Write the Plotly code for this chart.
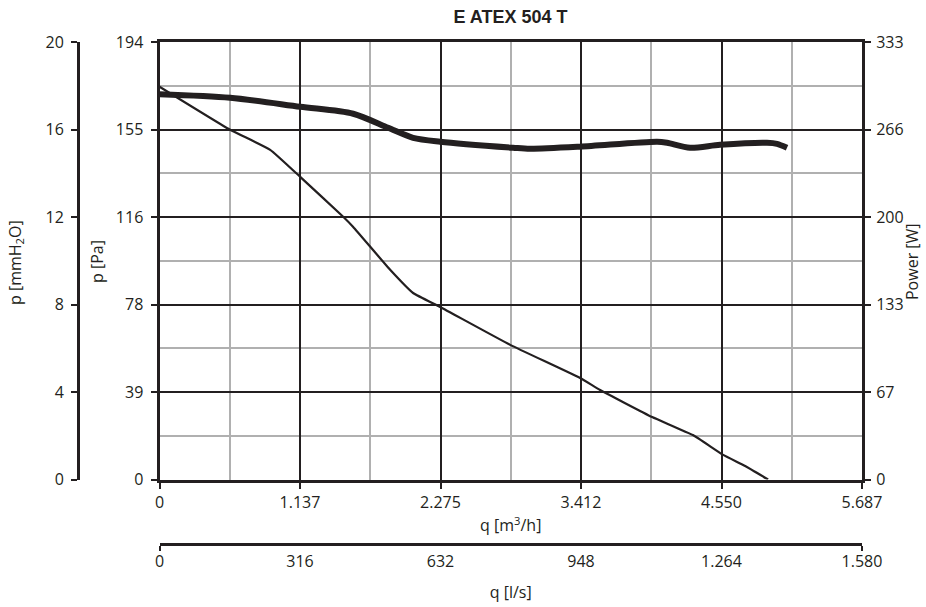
import plotly.graph_objects as go

# ---------------- data ----------------
TITLE = "E ATEX 504 T"

# pressure curve (thin line), q in m3/h, p in Pa
q_pressure = [0, 572, 896, 1139, 1487, 1568, 1867, 2053, 2272, 2839, 3405, 3567, 3988, 4318, 4563, 4741, 4927]
p_pressure = [174.2, 155.1, 146.2, 134.2, 116.5, 112.0, 93.0, 82.7, 76.5, 59.7, 45.0, 39.7, 27.7, 19.7, 10.9, 6.0, 0.0]

# power curve (thick line), q in m3/h, power in W
q_power = [0, 572, 1139, 1568, 1851, 2053, 2272, 2862, 2999, 3405, 4028, 4109, 4295, 4538, 4918, 4999, 5080]
w_power = [293.3, 290.6, 283.7, 278.4, 267.7, 260.1, 257.1, 252.5, 251.7, 253.3, 257.1, 256.3, 252.5, 254.8, 256.3, 255.5, 252.5]

# axes ranges and ticks
q_m3h_range = [0, 5687]
q_m3h_ticks = [0, 1137.4, 2274.8, 3412.2, 4549.6, 5687]
q_m3h_labels = ["0", "1.137", "2.275", "3.412", "4.550", "5.687"]
q_m3h_minor = [568.7, 1706.1, 2843.5, 3980.9, 5118.3]

q_ls_range = [0, 1580]
q_ls_ticks = [0, 316, 632, 948, 1264, 1580]
q_ls_labels = ["0", "316", "632", "948", "1.264", "1.580"]

p_pa_range = [0, 194]
p_pa_ticks = [0, 38.8, 77.6, 116.4, 155.2, 194]
p_pa_labels = ["0", "39", "78", "116", "155", "194"]
p_pa_minor = [19.4, 58.2, 97.0, 135.8, 174.6]

p_mm_range = [0, 20]
p_mm_ticks = [0, 4, 8, 12, 16, 20]
p_mm_labels = ["0", "4", "8", "12", "16", "20"]

w_range = [0, 333]
w_ticks = [0, 66.6, 133.2, 199.8, 266.4, 333]
w_labels = ["0", "67", "133", "200", "266", "333"]

TITLE_Q_M3H = "q [m<sup>3</sup>/h]"
TITLE_Q_LS = "q [l/s]"
TITLE_P_PA = "p [Pa]"
TITLE_P_MM = "p [mmH<sub>2</sub>O]"
TITLE_POWER = "Power [W]"

# ---------------- style ----------------
INK = "#231f20"
GREY = "#b0b0b0"
FONT = "Open Sans"
FS = 16
W, H = 926, 607
ML, MR, MT, MB = 78, 64, 42, 63

fig = go.Figure()

fig.add_trace(go.Scatter(
    x=q_pressure, y=p_pressure, mode="lines",
    line=dict(color=INK, width=2.2, shape="spline", smoothing=0.4),
    xaxis="x", yaxis="y", showlegend=False, hoverinfo="skip"))

fig.add_trace(go.Scatter(
    x=q_power, y=w_power, mode="lines",
    line=dict(color=INK, width=6, shape="spline", smoothing=0.8),
    xaxis="x", yaxis="y2", showlegend=False, hoverinfo="skip"))

# helper trace so the extra axes are drawn
fig.add_trace(go.Scatter(x=[None], y=[None], mode="markers", xaxis="x2", yaxis="y3",
                         showlegend=False, hoverinfo="skip"))

axis_common = dict(
    showline=True, linecolor=INK, linewidth=3,
    ticks="outside", tickcolor=INK, tickwidth=2, ticklen=6,
    tickfont=dict(family=FONT, size=FS, color=INK),
    zeroline=False, fixedrange=True, tickmode="array", automargin=False,
)

pw = W - ML - MR
ph = H - MT - MB


def px_x(x):
    return (x - ML) / pw


def px_y(y):
    return (H - MB - y) / ph


fig.update_layout(
    width=W, height=H,
    margin=dict(l=ML, r=MR, t=MT, b=MB, autoexpand=False),
    paper_bgcolor="white", plot_bgcolor="white",
    font=dict(family=FONT, size=FS, color=INK),
    title=dict(text=f"<b>{TITLE}</b>", x=px_x(510.5), xref="paper", xanchor="center",
               y=1 - 17 / H, yref="container", yanchor="middle", automargin=False,
               font=dict(family="Liberation Sans", size=18, color=INK)),
    xaxis=dict(
        **axis_common,
        domain=[px_x(159.5), 1], range=q_m3h_range, anchor="y",
        tickvals=q_m3h_ticks, ticktext=q_m3h_labels,
        showgrid=True, gridcolor=INK, gridwidth=2,
        minor=dict(tickmode="array", tickvals=q_m3h_minor, showgrid=True,
                   gridcolor=GREY, gridwidth=2, ticks=""),
        mirror=True,
        title=dict(text=TITLE_Q_M3H, standoff=9,
                   font=dict(family=FONT, size=FS, color=INK)),
    ),
    xaxis2=dict(
        **{k: v for k, v in axis_common.items() if k != "ticks"},
        ticks="",
        domain=[px_x(159.5), 1], range=q_ls_range, anchor="free", position=0,
        overlaying="x", side="bottom",
        tickvals=q_ls_ticks, ticktext=q_ls_labels, showgrid=False,
        ticklabelstandoff=2,
        minor=dict(tickmode="array", tickvals=[q_ls_range[0], q_ls_range[1]],
                   ticks="outside", ticklen=5, tickcolor=INK, tickwidth=2, showgrid=False),
        title=dict(text=TITLE_Q_LS, standoff=15,
                   font=dict(family=FONT, size=FS, color=INK)),
    ),
    yaxis=dict(
        **axis_common,
        domain=[px_y(479.5), 1], range=p_pa_range, anchor="x",
        tickvals=p_pa_ticks, ticktext=p_pa_labels,
        showgrid=True, gridcolor=INK, gridwidth=2,
        minor=dict(tickmode="array", tickvals=p_pa_minor, showgrid=True,
                   gridcolor=GREY, gridwidth=2, ticks=""),
        ticklabelstandoff=4,
    ),
    yaxis2=dict(
        **axis_common,
        domain=[px_y(479.5), 1], range=w_range, anchor="x", overlaying="y", side="right",
        tickvals=w_ticks, ticktext=w_labels, showgrid=False,
        ticklabelstandoff=2,
    ),
    yaxis3=dict(
        **axis_common,
        domain=[px_y(479.5), 1], range=p_mm_range, anchor="free", position=0,
        overlaying="y", side="left",
        tickvals=p_mm_ticks, ticktext=p_mm_labels, showgrid=False,
        ticklabelstandoff=4,
    ),
    annotations=[
        dict(text=TITLE_P_MM, textangle=-90, xref="paper", yref="paper",
             x=px_x(15), y=px_y(262), xanchor="center", yanchor="middle",
             showarrow=False, font=dict(family=FONT, size=FS, color=INK)),
        dict(text=TITLE_P_PA, textangle=-90, xref="paper", yref="paper",
             x=px_x(97), y=px_y(262), xanchor="center", yanchor="middle",
             showarrow=False, font=dict(family=FONT, size=FS, color=INK)),
        dict(text=TITLE_POWER, textangle=-90, xref="paper", yref="paper",
             x=px_x(912), y=px_y(262), xanchor="center", yanchor="middle",
             showarrow=False, font=dict(family=FONT, size=FS, color=INK)),
    ],
)

fig.write_html("out.html", config={"displayModeBar": False},
               post_script="document.body.style.margin='0';")
